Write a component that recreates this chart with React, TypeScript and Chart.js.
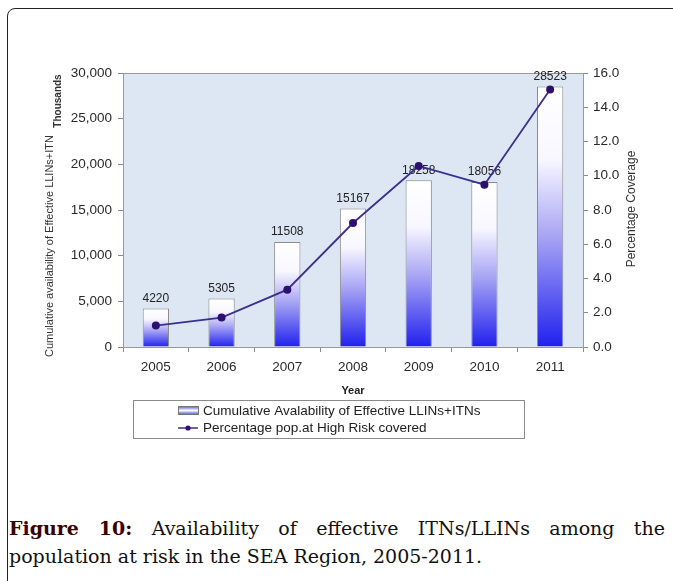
import React, { useEffect, useRef } from "react";
import { Chart, registerables } from "chart.js";

Chart.register(...registerables);

const years = ["2005", "2006", "2007", "2008", "2009", "2010", "2011"];
const nets = [4220, 5305, 11508, 15167, 18258, 18056, 28523];
const coverage = [1.25, 1.72, 3.35, 7.24, 10.57, 9.48, 15.03];

const netsLabel = "Cumulative Avalability of Effective LLINs+ITNs";
const coverageLabel = "Percentage pop.at High Risk covered";
const leftTitle = "Cumulative availability of Effective LLINs+ITN";
const leftUnit = "Thousands";
const rightTitle = "Percentage Coverage";
const xTitle = "Year";
const captionBold = "Figure 10:";
const captionLine1 = " Availability of effective ITNs/LLINs among the";
const captionLine2 = "population at risk in the SEA Region, 2005-2011.";

const SANS = "'Liberation Sans', Arial, sans-serif";

function barGradient(ctx: CanvasRenderingContext2D, top: number, bottom: number) {
  const g = ctx.createLinearGradient(0, top, 0, bottom);
  g.addColorStop(0, "#ffffff");
  g.addColorStop(0.28, "#f8f7ff");
  g.addColorStop(0.58, "#a6a3f4");
  g.addColorStop(1, "#2020ee");
  return g;
}

const decorPlugin = {
  id: "decor",
  beforeDraw(chart: any) {
    const { ctx, chartArea } = chart;
    if (!chartArea) return;
    ctx.save();
    ctx.fillStyle = "#dce7f3";
    ctx.fillRect(chartArea.left, chartArea.top, chartArea.right - chartArea.left, chartArea.bottom - chartArea.top);
    ctx.restore();
  },
  beforeDatasetsDraw(chart: any) {
    const { ctx, chartArea } = chart;
    ctx.save();
    ctx.strokeStyle = "#9a9a9a";
    ctx.lineWidth = 1;
    ctx.beginPath();
    ctx.moveTo(chartArea.left, chartArea.top + 0.5);
    ctx.lineTo(chartArea.right, chartArea.top + 0.5);
    ctx.stroke();
    ctx.restore();
  },
  afterDatasetDraw(chart: any, args: any) {
    if (args.index !== 0) return;
    const { ctx } = chart;
    const meta = args.meta;
    ctx.save();
    ctx.fillStyle = "#222";
    ctx.font = `12px ${SANS}`;
    ctx.textAlign = "center";
    ctx.textBaseline = "middle";
    meta.data.forEach((el: any, i: number) => {
      ctx.fillText(String(nets[i]), el.x, el.y - 10);
    });
    ctx.restore();
  },
  afterDraw(chart: any) {
    const { ctx, chartArea } = chart;
    ctx.save();
    // left titles
    ctx.fillStyle = "#333";
    ctx.textAlign = "center";
    ctx.textBaseline = "middle";
    ctx.save();
    ctx.translate(50, 246);
    ctx.rotate(-Math.PI / 2);
    ctx.font = `11px ${SANS}`;
    ctx.fillText(leftTitle, 0, 0);
    ctx.restore();
    ctx.save();
    ctx.translate(58, 101);
    ctx.rotate(-Math.PI / 2);
    ctx.font = `bold 10px ${SANS}`;
    ctx.fillText(leftUnit, 0, 0);
    ctx.restore();
    // right title
    ctx.save();
    ctx.translate(632, 209);
    ctx.rotate(-Math.PI / 2);
    ctx.font = `12px ${SANS}`;
    ctx.fillText(rightTitle, 0, 0);
    ctx.restore();

    // legend
    const lx = 133, ly = 400, lw = 391, lh = 38;
    ctx.fillStyle = "#ffffff";
    ctx.fillRect(lx, ly, lw, lh);
    ctx.strokeStyle = "#8a8a8a";
    ctx.lineWidth = 1;
    ctx.strokeRect(lx + 0.5, ly + 0.5, lw, lh);
    // bar icon
    const g = ctx.createLinearGradient(0, 406, 0, 415);
    g.addColorStop(0, "#4747ee");
    g.addColorStop(0.5, "#ffffff");
    g.addColorStop(1, "#3535ea");
    ctx.fillStyle = g;
    ctx.fillRect(178, 406.5, 20, 8);
    ctx.strokeStyle = "#777";
    ctx.strokeRect(178.5, 406.5, 20, 8);
    // line icon
    ctx.strokeStyle = "#3b2f8f";
    ctx.lineWidth = 1.5;
    ctx.beginPath();
    ctx.moveTo(178, 428);
    ctx.lineTo(198, 428);
    ctx.stroke();
    ctx.fillStyle = "#2d0f6e";
    ctx.beginPath();
    ctx.arc(188, 428, 2.6, 0, Math.PI * 2);
    ctx.fill();
    // legend text
    ctx.fillStyle = "#222";
    ctx.font = `13.5px ${SANS}`;
    ctx.textAlign = "left";
    ctx.textBaseline = "middle";
    ctx.fillText(netsLabel, 203, 411);
    ctx.fillText(coverageLabel, 203, 428.5);
    ctx.restore();
  },
};

export default function App() {
  const ref = useRef<HTMLCanvasElement | null>(null);

  useEffect(() => {
    const canvas = ref.current;
    if (!canvas) return;
    const chart = new Chart(canvas, {
      type: "bar",
      data: {
        labels: years,
        datasets: [
          {
            type: "bar",
            label: netsLabel,
            data: nets,
            yAxisID: "y",
            order: 1,
            barPercentage: 0.4,
            categoryPercentage: 1,
            borderWidth: 1,
            borderColor: "#8c8c8c",
            backgroundColor: (c: any) => {
              const ch = c.chart;
              if (!ch.chartArea || c.type !== "data") return "#8888f0";
              const yScale = ch.scales.y;
              const top = yScale.getPixelForValue(nets[c.dataIndex]);
              const bottom = yScale.getPixelForValue(0);
              return barGradient(ch.ctx, top, bottom);
            },
          },
          {
            type: "line",
            label: coverageLabel,
            data: coverage,
            yAxisID: "y1",
            order: 0,
            borderColor: "#3b2f8f",
            borderWidth: 1.8,
            pointRadius: 4,
            pointBackgroundColor: "#2d0f6e",
            pointBorderColor: "#2d0f6e",
            pointBorderWidth: 0,
            tension: 0,
            fill: false,
          },
        ],
      },
      options: {
        animation: false,
        responsive: false,
        devicePixelRatio: 1,
        events: [],
        layout: { padding: { top: 73, left: 0, right: 0, bottom: 62 } },
        plugins: {
          legend: { display: false },
          tooltip: { enabled: false },
          title: { display: false },
        },
        scales: {
          x: {
            type: "category",
            offset: true,
            grid: {
              display: true,
              drawOnChartArea: false,
              drawTicks: true,
              tickLength: 5,
              color: "#8a8a8a",
              offset: true,
            },
            border: { display: true, color: "#9a9a9a" },
            ticks: {
              color: "#2a2a2a",
              font: { family: SANS, size: 13.5 },
              padding: 7,
              maxRotation: 0,
            },
            title: {
              display: true,
              text: xTitle,
              color: "#222",
              font: { family: SANS, size: 11, weight: "bold" },
              padding: 0,
            },
            afterFit: (s: any) => {
              s.height = 51;
            },
          },
          y: {
            position: "left",
            min: 0,
            max: 30000,
            grid: {
              display: true,
              drawOnChartArea: false,
              drawTicks: true,
              tickLength: 5,
              color: "#8a8a8a",
            },
            border: { display: true, color: "#9a9a9a" },
            ticks: {
              stepSize: 5000,
              color: "#2a2a2a",
              font: { family: SANS, size: 13.5 },
              padding: 6,
              callback: (v: any) => Number(v).toLocaleString("en-US"),
            },
            afterFit: (s: any) => {
              s.width = 123;
            },
          },
          y1: {
            position: "right",
            min: 0,
            max: 16,
            grid: {
              display: true,
              drawOnChartArea: false,
              drawTicks: true,
              tickLength: 5,
              color: "#8a8a8a",
            },
            border: { display: true, color: "#9a9a9a" },
            ticks: {
              stepSize: 2,
              color: "#2a2a2a",
              font: { family: SANS, size: 13.5 },
              padding: 5,
              callback: (v: any) => Number(v).toFixed(1),
            },
            afterFit: (s: any) => {
              s.width = 90;
            },
          },
        },
      },
      plugins: [decorPlugin],
    } as any);
    return () => chart.destroy();
  }, []);

  return (
    <div
      style={{
        position: "absolute",
        left: 0,
        top: 0,
        width: 673,
        height: 581,
        overflow: "hidden",
        background: "#ffffff",
      }}
    >
      <div
        style={{
          position: "absolute",
          left: 7,
          top: 8,
          width: 700,
          height: 620,
          border: "1.5px solid #222",
          borderRadius: 8,
          boxSizing: "border-box",
        }}
      />
      <canvas
        ref={ref}
        width={673}
        height={460}
        style={{ position: "absolute", left: 0, top: 0, width: 673, height: 460 }}
      />
      <div
        style={{
          position: "absolute",
          left: 9,
          top: 514,
          width: 656,
          fontFamily: "'DejaVu Serif', serif",
          fontSize: 19,
          lineHeight: "28px",
          color: "#111",
        }}
      >
        <div style={{ textAlign: "justify", textAlignLast: "justify", whiteSpace: "normal" } as any}>
          <span style={{ fontWeight: "bold", color: "#3a0000" }}>{captionBold}</span>
          {captionLine1}
        </div>
        <div>{captionLine2}</div>
      </div>
    </div>
  );
}
